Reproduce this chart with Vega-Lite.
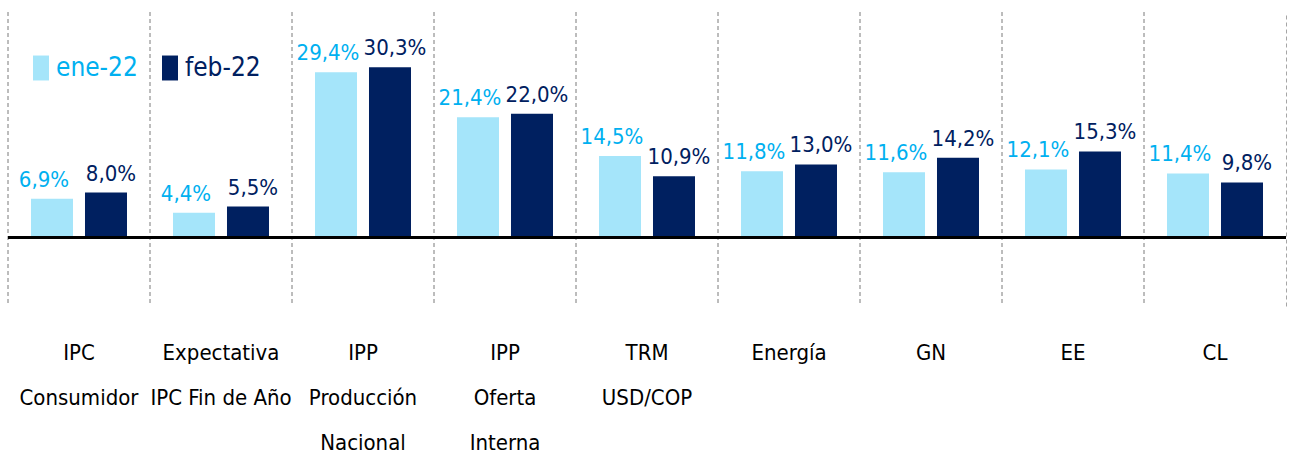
{
  "$schema": "https://vega.github.io/schema/vega-lite/v6.json",
  "width": 1278,
  "height": 294,
  "autosize": {"type": "none"},
  "padding": {"left": 8, "top": 12, "right": 5, "bottom": 149},
  "background": "white",
  "config": {
    "view": {"stroke": null},
    "font": "DejaVu Sans Condensed, sans-serif",
    "locale": {"number": {"decimal": ",", "thousands": ".", "grouping": [3], "currency": ["", ""]}}
  },
  "data": {
    "values": [
      {"cat": "IPC|Consumidor", "serie": "ene-22", "v": 0.069},
      {"cat": "IPC|Consumidor", "serie": "feb-22", "v": 0.080},
      {"cat": "Expectativa|IPC Fin de Año", "serie": "ene-22", "v": 0.044},
      {"cat": "Expectativa|IPC Fin de Año", "serie": "feb-22", "v": 0.055},
      {"cat": "IPP|Producción|Nacional", "serie": "ene-22", "v": 0.294},
      {"cat": "IPP|Producción|Nacional", "serie": "feb-22", "v": 0.303},
      {"cat": "IPP|Oferta|Interna", "serie": "ene-22", "v": 0.214},
      {"cat": "IPP|Oferta|Interna", "serie": "feb-22", "v": 0.220},
      {"cat": "TRM|USD/COP", "serie": "ene-22", "v": 0.145},
      {"cat": "TRM|USD/COP", "serie": "feb-22", "v": 0.109},
      {"cat": "Energía", "serie": "ene-22", "v": 0.118},
      {"cat": "Energía", "serie": "feb-22", "v": 0.130},
      {"cat": "GN", "serie": "ene-22", "v": 0.116},
      {"cat": "GN", "serie": "feb-22", "v": 0.142},
      {"cat": "EE", "serie": "ene-22", "v": 0.121},
      {"cat": "EE", "serie": "feb-22", "v": 0.153},
      {"cat": "CL", "serie": "ene-22", "v": 0.114},
      {"cat": "CL", "serie": "feb-22", "v": 0.098}
    ]
  },
  "encoding": {
    "x": {
      "field": "cat",
      "type": "nominal",
      "sort": null,
      "scale": {"paddingInner": 0, "paddingOuter": 0},
      "axis": {
        "title": null,
        "domain": false,
        "ticks": false,
        "grid": false,
        "labelAngle": 0,
        "labelPadding": 36,
        "labelBaseline": "top",
        "labelFontSize": 22,
        "labelLineHeight": 45,
        "labelColor": "#000000",
        "labelLimit": 300,
        "labelExpr": "split(datum.label, '|')"
      }
    },
    "xOffset": {
      "field": "serie",
      "type": "nominal",
      "scale": {"paddingInner": 0.222, "paddingOuter": 0.426}
    }
  },
  "layer": [
    {
      "mark": {"type": "rule", "strokeDash": [4, 3], "color": "#a6a6a6", "strokeWidth": 1},
      "encoding": {
        "x": {"field": "cat", "type": "nominal", "sort": null, "bandPosition": 0},
        "xOffset": null
      }
    },
    {
      "mark": {"type": "bar"},
      "encoding": {
        "y": {
          "field": "v",
          "type": "quantitative",
          "scale": {"domain": [-0.1219, 0.4012], "nice": false, "zero": false},
          "axis": {
            "orient": "right",
            "title": null,
            "labels": false,
            "ticks": false,
            "grid": false,
            "domain": true,
            "domainDash": [4, 3],
            "domainColor": "#a6a6a6",
            "domainWidth": 1
          }
        },
        "color": {
          "field": "serie",
          "type": "nominal",
          "scale": {"domain": ["ene-22", "feb-22"], "range": ["#A5E5FA", "#002060"]},
          "legend": {
            "title": null,
            "orient": "none",
            "legendX": 20,
            "legendY": 43,
            "padding": 0,
            "direction": "horizontal",
            "symbolType": "M-1,-1.56L1,-1.56L1,1.56L-1,1.56Z",
            "symbolSize": 256,
            "symbolStrokeWidth": 0,
            "labelFontSize": 26,
            "labelOffset": 2,
            "columnPadding": 19,
            "labelLimit": 300,
            "encode": {
              "labels": {
                "update": {
                  "fill": {"signal": "datum.label === 'ene-22' ? '#00B0F0' : '#002060'"}
                }
              }
            }
          }
        }
      }
    },
    {
      "mark": {"type": "rule", "color": "#000000", "strokeWidth": 1.5},
      "encoding": {"y": {"datum": 0}, "x": null, "xOffset": null}
    },
    {
      "transform": [{"filter": "datum.serie === 'ene-22'"}],
      "mark": {"type": "text", "baseline": "alphabetic", "dy": -12, "dx": -8, "fontSize": 22, "color": "#00B0F0"},
      "encoding": {
        "y": {"field": "v", "type": "quantitative"},
        "text": {"field": "v", "type": "quantitative", "format": ".1%"}
      }
    },
    {
      "transform": [{"filter": "datum.serie === 'feb-22'"}],
      "mark": {"type": "text", "baseline": "alphabetic", "dy": -12, "dx": 5, "fontSize": 22, "color": "#002060"},
      "encoding": {
        "y": {"field": "v", "type": "quantitative"},
        "text": {"field": "v", "type": "quantitative", "format": ".1%"}
      }
    }
  ]
}
